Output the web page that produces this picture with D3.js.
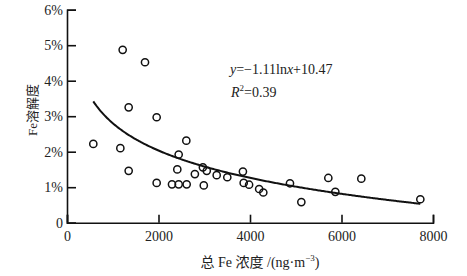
<!DOCTYPE html>
<html><head><meta charset="utf-8">
<script src="https://cdn.jsdelivr.net/npm/d3@7"></script>
<style>
html,body{margin:0;padding:0;background:#fff;}
svg{display:block;}
.tk text{font-family:"Liberation Serif","Times New Roman",serif;font-size:14px;fill:#222;}
</style></head>
<body><svg id="c" width="467" height="276"></svg>
<script>
// Data
const totalFe = [575,1166,1217,1348,1348,1705,1960,1960,2295,2441,2616,2441,2608,2411,2795,2970,2990,3055,3272,3504,3845,3862,3980,4200,4291,4874,5122,5712,5865,6433,7723];
const feSolubility = [2.22,2.10,4.87,3.25,1.46,4.52,2.97,1.12,1.08,1.08,1.08,1.92,2.31,1.50,1.37,1.56,1.05,1.46,1.34,1.28,1.44,1.12,1.07,0.95,0.85,1.11,0.58,1.26,0.87,1.24,0.66];
const xTicks = [0,2000,4000,6000,8000];
const yTicks = [0,1,2,3,4,5,6];
const fitSlope = -1.11, fitIntercept = 10.47;
const fitRange = [575, 7723];
const eqLabel = "=−1.11ln";
const r2Label = "0.39";

const svg = d3.select("#c");
const x = d3.scaleLinear().domain([0,8000]).range([67,433]);
const y = d3.scaleLinear().domain([0,6]).range([222.7,9.7]);

const gx = svg.append("g").attr("class","tk").attr("transform","translate(0,222.7)")
  .call(d3.axisBottom(x).tickValues(xTicks).tickSize(-8).tickPadding(8).tickFormat(d=>String(d)));
const gy = svg.append("g").attr("class","tk").attr("transform","translate(67,0)")
  .call(d3.axisLeft(y).tickValues(yTicks).tickSize(-9).tickPadding(4).tickFormat(d=>d===0?"0":d+"%"));
[gx,gy].forEach(g=>{
  g.select(".domain").attr("stroke","#111").attr("stroke-width",1.6);
  g.selectAll(".tick line").attr("stroke","#111").attr("stroke-width",1.6);
});

// fitted curve
const fitPts = d3.range(fitRange[0], fitRange[1]+1, 25).concat([fitRange[1]]).map(v=>[v, fitSlope*Math.log(v)+fitIntercept]);
svg.append("path").datum(fitPts)
  .attr("d", d3.line().x(d=>x(d[0])).y(d=>y(d[1])))
  .attr("fill","none").attr("stroke","#111").attr("stroke-width",2);

// points
svg.append("g").selectAll("circle").data(totalFe.map((v,i)=>[v,feSolubility[i]])).join("circle")
  .attr("cx",d=>x(d[0])).attr("cy",d=>y(d[1])).attr("r",3.6)
  .attr("fill","none").attr("stroke","#111").attr("stroke-width",1.5);

// equation
const serif = "'Liberation Serif','Times New Roman',serif";
const eq = svg.append("text").attr("x",230).attr("y",74).attr("font-family",serif).attr("font-size",14).attr("fill","#222");
eq.append("tspan").attr("font-style","italic").text("y");
eq.append("tspan").text(eqLabel);
eq.append("tspan").attr("font-style","italic").text("x");
eq.append("tspan").text("+10.47");
const r2 = svg.append("text").attr("x",231).attr("y",97).attr("font-family",serif).attr("font-size",14).attr("fill","#222");
r2.append("tspan").attr("font-style","italic").text("R");
r2.append("tspan").attr("font-size",9).attr("dy",-6).text("2");
r2.append("tspan").attr("dy",6).text("="+r2Label);

// axis titles
const cjk = "'Liberation Serif','Noto Sans CJK SC',serif";
const xt = svg.append("text").attr("x",260).attr("y",267).attr("text-anchor","middle").attr("font-family",cjk).attr("font-size",14).attr("fill","#222");
xt.append("tspan").text("总 Fe 浓度 /(ng·m");
xt.append("tspan").attr("font-size",9).attr("dy",-6).text("−3");
xt.append("tspan").attr("dy",6).text(")");
svg.append("text").attr("transform","translate(37,110) rotate(-90)").attr("text-anchor","middle")
  .attr("font-family",cjk).attr("font-size",13).attr("fill","#222").text("Fe溶解度");
</script></body></html>
